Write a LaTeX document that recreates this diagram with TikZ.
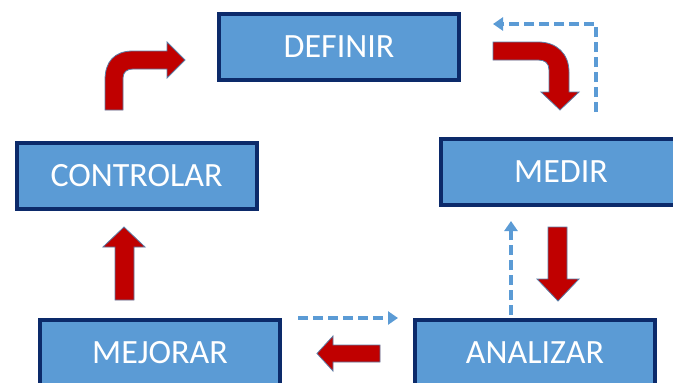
\documentclass[tikz,border=0pt]{standalone}
\usepackage{fontspec}
\setmainfont{Carlito}
\usetikzlibrary{arrows.meta}
\definecolor{boxfill}{HTML}{5B9BD5}
\definecolor{boxline}{HTML}{0C2A6A}
\definecolor{redfill}{HTML}{C00000}
\definecolor{redline}{HTML}{5A7DA6}
\definecolor{dashblue}{HTML}{5B9BD5}
\tikzset{
  stagebox/.style={draw=boxline, fill=boxfill, line width=4pt, minimum width=240pt, minimum height=66pt,
    inner sep=0pt, text=white, font=\fontsize{34}{40}\selectfont},
  redarrow/.style={fill=redfill, draw=redline, line width=0.8pt, line join=miter},
  dashconn/.style={draw=dashblue, line width=4pt, dash pattern=on 10pt off 5pt,
    -{Triangle[length=10pt,width=13pt]}}
}
\begin{document}
\begin{tikzpicture}[x=1pt,y=-1pt]
\useasboundingbox (0,0) rectangle (673,383);
% boxes
\node[stagebox] (definir) at (339,47) {DEFINIR};
\node[stagebox] (medir) at (561,172) {MEDIR};
\node[stagebox] (controlar) at (136.5,176) {CONTROLAR};
\node[stagebox] (mejorar) at (160,353) {MEJORAR};
\node[stagebox] (analizar) at (535,353) {ANALIZAR};
% red block arrows
% controlar -> definir (bent)
\draw[redarrow] (105,110) -- (105,80) .. controls (105,62) and (114,51) .. (133,51) -- (167,51) -- (167,42)
  -- (185,60) -- (167,78) -- (167,69) -- (133,69) .. controls (127,69) and (123,72) .. (123,78) -- (123,110) -- cycle;
% definir -> medir (bent)
\draw[redarrow] (493,42) -- (538,42) .. controls (557,42) and (569,54) .. (569,72) -- (569,92) -- (579,92)
  -- (560,110) -- (541,92) -- (549,92) -- (549,70) .. controls (549,63) and (545,60) .. (538,60) -- (493,60) -- cycle;
% medir -> analizar
\draw[redarrow] (548,227) -- (567,227) -- (567,279) -- (579,279) -- (558,301) -- (537,279) -- (548,279) -- cycle;
% analizar -> mejorar
\draw[redarrow] (380,345) -- (380,362) -- (333,362) -- (333,371) -- (317,353.5) -- (333,336) -- (333,345) -- cycle;
% mejorar -> controlar
\draw[redarrow] (115,300) -- (134,300) -- (134,247) -- (145,247) -- (124,227) -- (103,247) -- (115,247) -- cycle;
% dashed feedback connectors
\coordinate (fbmedir) at (596,112);
\coordinate (fbcorner) at (596,24);
\coordinate (fbdef) at (493,24);
\draw[dashconn] (fbmedir) -- (fbcorner) -- (fbdef);
\coordinate (fbanA) at (511,315);
\coordinate (fbanB) at (511,221);
\draw[dashconn] (fbanA) -- (fbanB);
\coordinate (fbmejA) at (298,318);
\coordinate (fbmejB) at (398,318);
\draw[dashconn] (fbmejA) -- (fbmejB);
\end{tikzpicture}
\end{document}
